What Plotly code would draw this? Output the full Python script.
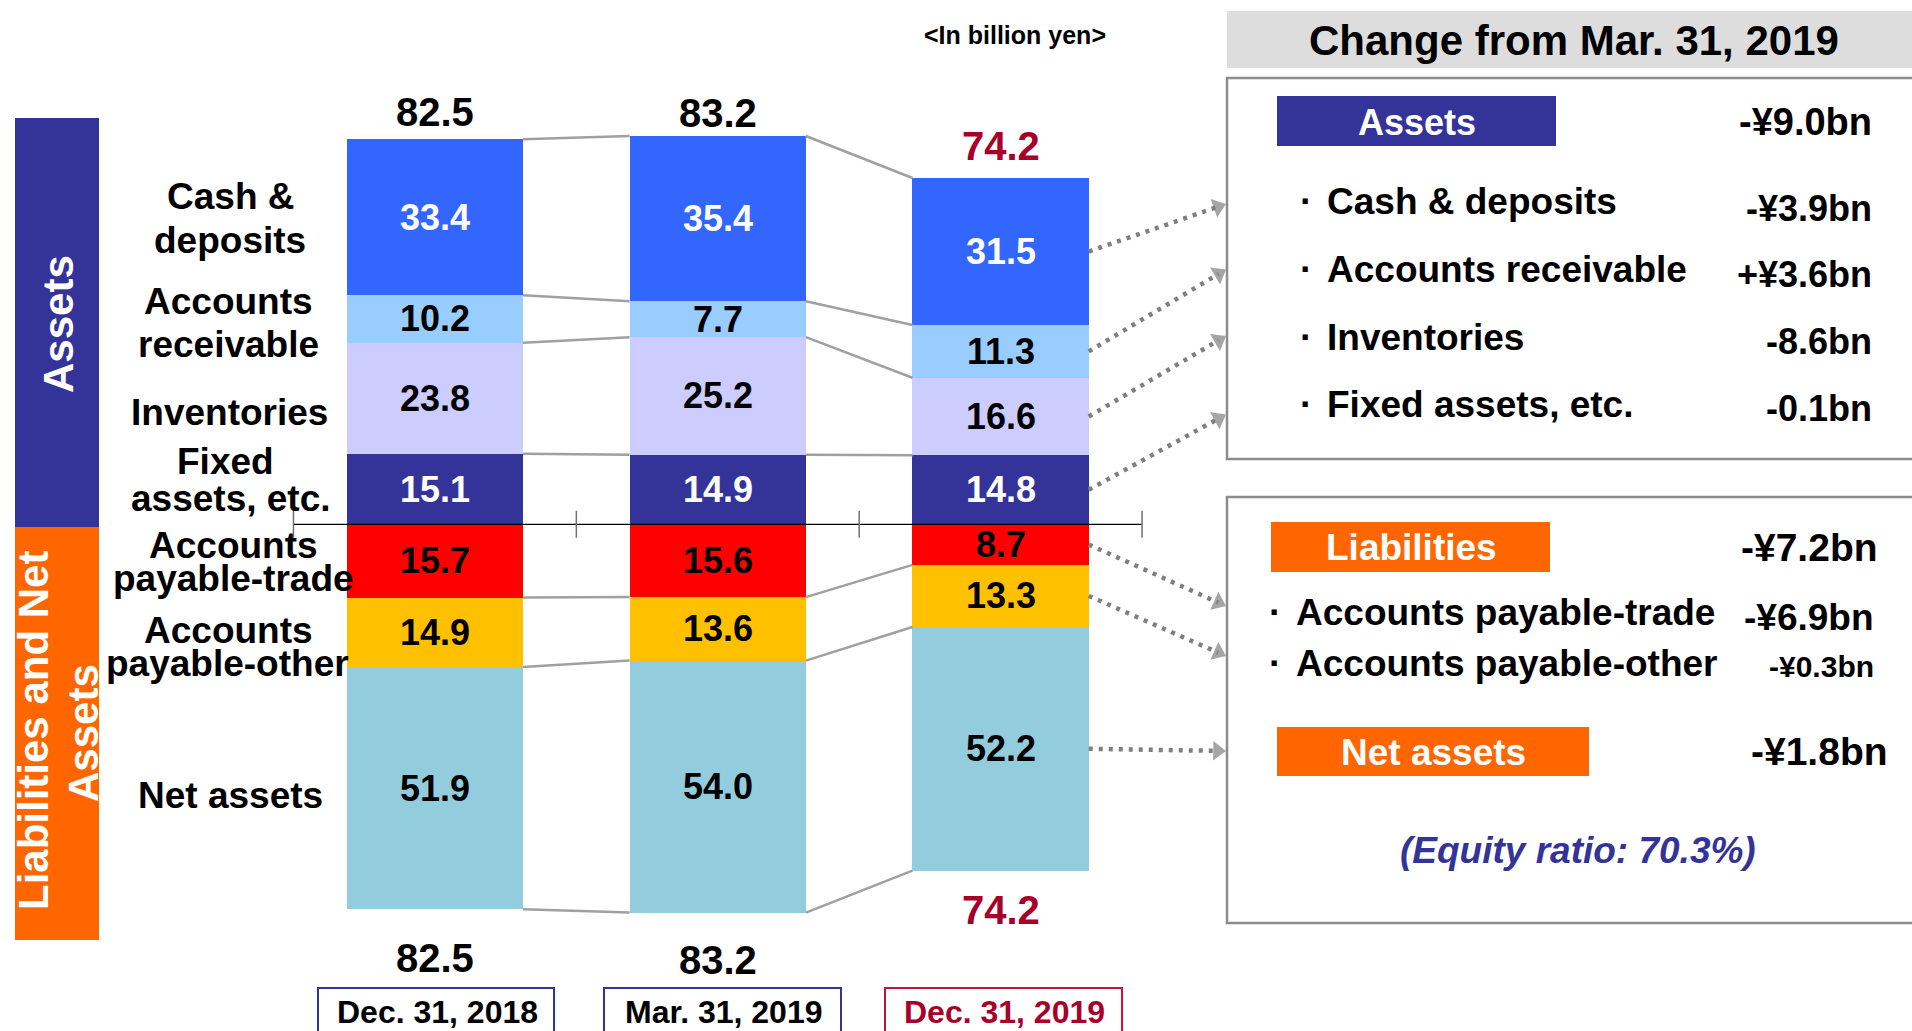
import math
import plotly.graph_objects as go

W, H = 1912, 1031
FONT = "Liberation Sans, Arial, Helvetica, sans-serif"

# ---------------- data ----------------
periods = ["Dec. 31, 2018", "Mar. 31, 2019", "Dec. 31, 2019"]
# assets, stacked upward from zero (bottom -> top)
fixed_assets = [15.1, 14.9, 14.8]
inventories = [23.8, 25.2, 16.6]
accounts_receivable = [10.2, 7.7, 11.3]
cash_deposits = [33.4, 35.4, 31.5]
# liabilities & net assets, stacked downward from zero (top -> bottom)
ap_trade = [15.7, 15.6, 8.7]
ap_other = [14.9, 13.6, 13.3]
net_assets = [51.9, 54.0, 52.2]
totals = [82.5, 83.2, 74.2]

left_label_lines = ["Cash &", "deposits", "Accounts", "receivable", "Inventories",
                    "Fixed", "assets, etc.", "Accounts", "payable-trade",
                    "Accounts", "payable-other", "Net assets"]

change_title = "Change from Mar. 31, 2019"
unit_note = "<In billion yen>"
asset_change_total = "-¥9.0bn"
asset_change_items = ["Cash & deposits", "Accounts receivable", "Inventories", "Fixed assets, etc."]
asset_change_values = ["-¥3.9bn", "+¥3.6bn", "-8.6bn", "-0.1bn"]
liab_change_total = "-¥7.2bn"
liab_change_items = ["Accounts payable-trade", "Accounts payable-other"]
liab_change_values = ["-¥6.9bn", "-¥0.3bn"]
net_change_total = "-¥1.8bn"
equity_note = "(Equity ratio: 70.3%)"

# ---------------- layout / style ----------------
X0_PX, X_STEP = 434.9, 282.85     # pixel of category 0, pixels per category
Y0_PX, Y_UNIT = 524.3, 4.667      # pixel of value 0, pixels per billion yen
BW = 176.3 / X_STEP               # bar width in category units

asset_colors = ["#333399", "#CCCCFF", "#99CCFF", "#3366FF"]
asset_text = ["white", "black", "black", "white"]
liab_colors = ["#FF0000", "#FFC000", "#93CDDD"]
liab_text = ["black", "black", "black"]
RED = "#A8002A"
NAVY = "#333399"
ORANGE = "#FF6600"
GRAY = "#7F7F7F"

def pxX(x):
    return x / W

def pxY(y):
    return 1 - y / H

def dataX(px):
    return (px - X0_PX) / X_STEP

def dataY(py):
    return (Y0_PX - py) / Y_UNIT

fig = go.Figure()
xs = list(range(len(periods)))

def ptext(px, py, s, size, color="black", xanchor="center", angle=0, italic=False):
    fig.add_annotation(x=pxX(px), y=pxY(py), xref="paper", yref="paper",
                       text=s, showarrow=False, xanchor=xanchor, yanchor="middle",
                       textangle=angle,
                       font=dict(family=FONT, size=size, color=color, weight="bold",
                                 style="italic" if italic else "normal"))

# ---------------- bars ----------------
asset_series = [fixed_assets, inventories, accounts_receivable, cash_deposits]
liab_series = [ap_trade, ap_other, net_assets]

asset_bounds = []
asset_centers = []
cum = [0.0] * 3
for vals, col, tc in zip(asset_series, asset_colors, asset_text):
    fig.add_bar(x=xs, y=vals, width=BW, marker=dict(color=col, line=dict(width=0)),
                hoverinfo="skip", showlegend=False)
    centers = [c + v / 2 for c, v in zip(cum, vals)]
    cum = [c + v for c, v in zip(cum, vals)]
    asset_bounds.append(cum[:])
    asset_centers.append(centers)
    for i, (c, v) in enumerate(zip(centers, vals)):
        fig.add_annotation(x=xs[i], y=c, text=f"{v:.1f}", showarrow=False,
                           xanchor="center", yanchor="middle",
                           font=dict(family=FONT, size=36, color=tc, weight="bold"))

liab_bounds = []
liab_centers = []
cum = [0.0] * 3
for vals, col, tc in zip(liab_series, liab_colors, liab_text):
    fig.add_bar(x=xs, y=[-v for v in vals], width=BW, marker=dict(color=col, line=dict(width=0)),
                hoverinfo="skip", showlegend=False)
    centers = [c - v / 2 for c, v in zip(cum, vals)]
    cum = [c - v for c, v in zip(cum, vals)]
    liab_bounds.append(cum[:])
    liab_centers.append(centers)
    for i, (c, v) in enumerate(zip(centers, vals)):
        fig.add_annotation(x=xs[i], y=c, text=f"{v:.1f}", showarrow=False,
                           xanchor="center", yanchor="middle",
                           font=dict(family=FONT, size=36, color=tc, weight="bold"))

# connector lines between bars
cx, cy = [], []
for b in asset_bounds + liab_bounds:
    for i in range(len(xs) - 1):
        cx += [xs[i] + BW / 2, xs[i + 1] - BW / 2, None]
        cy += [b[i], b[i + 1], None]
fig.add_scatter(x=cx, y=cy, mode="lines", line=dict(color="#A0A0A0", width=2.5),
                hoverinfo="skip", showlegend=False)

# zero axis with boundary ticks
fig.add_scatter(x=[xs[0] - 0.5, xs[-1] + 0.5], y=[0, 0], mode="lines",
                line=dict(color="black", width=1.2), hoverinfo="skip", showlegend=False)
tk = 13.5 / Y_UNIT
tx, ty = [], []
for i in range(len(xs) + 1):
    t = xs[0] - 0.5 + i
    tx += [t, t, None]
    ty += [-tk, tk, None]
fig.add_scatter(x=tx, y=ty, mode="lines", line=dict(color="#707070", width=1.5),
                hoverinfo="skip", showlegend=False)

# totals above / below bars
top_shift = [27, 23, 32]
bottom_shift = [49, 47, 39]
for i, t in enumerate(totals):
    col = RED if i == len(totals) - 1 else "black"
    fig.add_annotation(x=xs[i], y=t, yshift=top_shift[i], text=f"{t:.1f}", showarrow=False,
                       xanchor="center", yanchor="middle",
                       font=dict(family=FONT, size=40, color=col, weight="bold"))
    fig.add_annotation(x=xs[i], y=-t, yshift=-bottom_shift[i], text=f"{t:.1f}", showarrow=False,
                       xanchor="center", yanchor="middle",
                       font=dict(family=FONT, size=40, color=col, weight="bold"))

# ---------------- period boxes ----------------
date_boxes = [(318, 554), (604, 841), (885, 1122)]
for i, (p, (x0, x1)) in enumerate(zip(periods, date_boxes)):
    last = i == len(periods) - 1
    fig.add_shape(type="rect", xref="paper", yref="paper", x0=pxX(x0), x1=pxX(x1),
                  y0=pxY(988), y1=pxY(1045),
                  line=dict(color="#C0143C" if last else NAVY, width=2))
    ptext((x0 + x1) / 2 + 1, 1012, p, 32, RED if last else "black")

# ---------------- left side ----------------
fig.add_shape(type="rect", xref="paper", yref="paper", x0=pxX(15), x1=pxX(99),
              y0=pxY(118), y1=pxY(527), fillcolor=NAVY, line=dict(width=0))
fig.add_shape(type="rect", xref="paper", yref="paper", x0=pxX(15), x1=pxX(99),
              y0=pxY(527), y1=pxY(940), fillcolor=ORANGE, line=dict(width=0))
ptext(58, 324, "Assets", 42, "white", angle=-90)
ptext(33, 731, "Liabilities and Net", 42, "white", angle=-90)
ptext(83, 733, "Assets", 42, "white", angle=-90)

left_label_pos = [(230, 197), (230, 240), (228.5, 301), (228.5, 344), (229.7, 412),
                  (225.5, 461), (230.5, 498), (233.5, 545), (233.7, 578),
                  (228.7, 630), (227.8, 663), (230.8, 795)]
for s, (x, y) in zip(left_label_lines, left_label_pos):
    ptext(x, y, s, 37)

# ---------------- right panel ----------------
ptext(1014.5, 35.5, unit_note, 25)
fig.add_shape(type="rect", xref="paper", yref="paper", x0=pxX(1227), x1=pxX(1920),
              y0=pxY(11), y1=pxY(68), fillcolor="#DDDDDD", line=dict(width=0))
ptext(1574, 40, change_title, 42)

for y0, y1 in [(78, 459), (497, 923)]:
    fig.add_shape(type="rect", xref="paper", yref="paper", x0=pxX(1227), x1=pxX(1925),
                  y0=pxY(y0), y1=pxY(y1), line=dict(color="#8C8C8C", width=2.5))

# assets block
fig.add_shape(type="rect", xref="paper", yref="paper", x0=pxX(1277), x1=pxX(1556),
              y0=pxY(96), y1=pxY(146), fillcolor=NAVY, line=dict(width=0))
ptext(1417, 122, "Assets", 36, "white")
ptext(1874, 122, asset_change_total, 38, xanchor="right")
asset_rows = [202, 269, 337, 404]
asset_value_rows = [208, 275, 342, 408]
for s, v, y, yv in zip(asset_change_items, asset_change_values, asset_rows, asset_value_rows):
    ptext(1306, y, "·", 37)
    ptext(1325, y, s, 37, xanchor="left")
    ptext(1874, yv, v, 36, xanchor="right")

# liabilities block
fig.add_shape(type="rect", xref="paper", yref="paper", x0=pxX(1271), x1=pxX(1550),
              y0=pxY(522), y1=pxY(572), fillcolor=ORANGE, line=dict(width=0))
ptext(1411.5, 547, "Liabilities", 37, "white")
ptext(1880, 547, liab_change_total, 39, xanchor="right")
liab_rows = [612, 663]
liab_value_rows = [617, 666]
liab_value_sizes = [37, 30]
for s, v, y, yv, sz in zip(liab_change_items, liab_change_values, liab_rows, liab_value_rows, liab_value_sizes):
    ptext(1275, y, "·", 37)
    ptext(1294, y, s, 37, xanchor="left")
    ptext(1876, yv, v, sz, xanchor="right")

fig.add_shape(type="rect", xref="paper", yref="paper", x0=pxX(1277), x1=pxX(1589),
              y0=pxY(727), y1=pxY(776), fillcolor=ORANGE, line=dict(width=0))
ptext(1433.5, 752, "Net assets", 37, "white")
ptext(1890, 751, net_change_total, 39, xanchor="right")
ptext(1578, 850, equity_note, 37, NAVY, italic=True)

# ---------------- dotted arrows from latest bar to panel ----------------
last = len(xs) - 1
arrow_sources = [asset_centers[3][last], asset_centers[2][last], asset_centers[1][last],
                 asset_centers[0][last], liab_centers[0][last], liab_centers[1][last],
                 liab_centers[2][last]]
arrow_target_rows = [204, 269.5, 336, 414.5, 606, 656, 751]
sx_px = X0_PX + X_STEP * (xs[last] + BW / 2)
tip_px = 1226
head = 8.5   # distance from triangle centre to tip
for sy, ty_px in zip(arrow_sources, arrow_target_rows):
    sy_px = Y0_PX - sy * Y_UNIT
    dx, dy = tip_px - sx_px, ty_px - sy_px
    L = math.hypot(dx, dy)
    ex_px = tip_px - dx / L * head
    ey_px = ty_px - dy / L * head
    fig.add_scatter(x=[xs[last] + BW / 2, dataX(ex_px)], y=[sy, dataY(ey_px)],
                    mode="lines+markers",
                    line=dict(color=GRAY, width=4.5, dash="4px,6px", backoff=0),
                    marker=dict(symbol="triangle-up", size=[0, 17], angleref="previous", color=GRAY,
                                line=dict(width=0)),
                    hoverinfo="skip", showlegend=False)

fig.update_layout(
    width=W, height=H,
    margin=dict(l=0, r=0, t=0, b=0),
    paper_bgcolor="white", plot_bgcolor="white",
    barmode="relative", bargap=0,
    showlegend=False,
    font=dict(family=FONT),
    xaxis=dict(range=[dataX(0), dataX(W)], visible=False, fixedrange=True),
    yaxis=dict(range=[dataY(H), dataY(0)], visible=False, fixedrange=True),
    hovermode=False,
)

fig.write_html("out.html", config={"displayModeBar": False},
               post_script="document.body.style.margin='0';document.body.style.overflow='hidden';")
